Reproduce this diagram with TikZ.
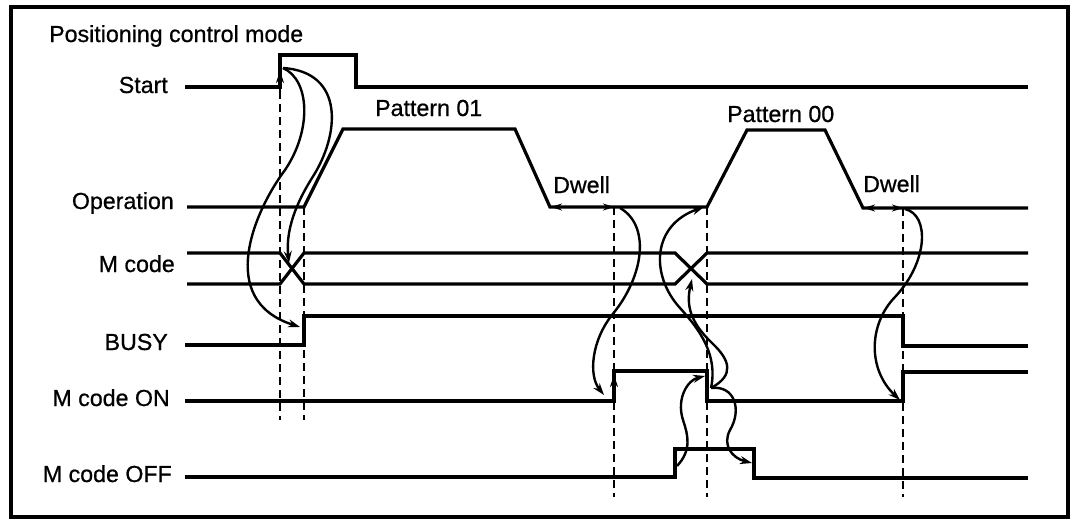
\documentclass[tikz,border=0pt]{standalone}
\usepackage{fontspec}
\setmainfont{Liberation Sans}
\newfontfamily\lblfont{Liberation Sans}[FakeBold=0.7]
\usetikzlibrary{arrows.meta}
\begin{document}
\begin{tikzpicture}[x=1pt,y=-1pt,
  sig/.style={line width=3.2pt, line join=miter},
  dsh/.style={line width=2.4pt, dash pattern=on 8pt off 5pt},
  crv/.style={line width=2.4pt, -{Stealth[length=12pt,width=8pt]}},
  tip/.style={line width=2.4pt, -{Stealth[length=12pt,width=8pt]}},
  dwl/.style={line width=2.4pt, {Stealth[length=11pt,width=7pt]}-{Stealth[length=11pt,width=7pt]}},
  txt/.style={inner sep=0pt, font=\lblfont\fontsize{23.2}{28}\selectfont},
  lbl/.style={txt, anchor=base east}]
\useasboundingbox (0,0) rectangle (1072,520);
\draw[line width=3.4pt] (11,7) rectangle (1068,517);

% texts
\node[txt, anchor=base west] (title) at (49,42) {Positioning control mode};
\node[lbl] (lStart) at (168,93) {Start};
\node[lbl] (lOp) at (174,209) {Operation};
\node[lbl] (lM) at (175,272) {M code};
\node[lbl] (lBusy) at (168,350) {BUSY};
\node[lbl] (lOn) at (170,406) {M code ON};
\node[lbl] (lOff) at (172,482) {M code OFF};
\node[txt, anchor=base west] (p01) at (375,116) {Pattern 01};
\node[txt, anchor=base west] (p00) at (727,122) {Pattern 00};
\node[txt, anchor=base west] (dw1) at (553,193) {Dwell};
\node[txt, anchor=base west] (dw2) at (863,192) {Dwell};

% key coordinates
\coordinate (stTop) at (283,68);
\coordinate (dw1a) at (551,207);
\coordinate (dw1b) at (614,207);
\coordinate (dw1c) at (620,208);
\coordinate (opRise2) at (704,207);
\coordinate (dw2a) at (864,208);
\coordinate (dw2b) at (903,208);
\coordinate (dw2c) at (905,209);
\coordinate (mX1) at (289,263);
\coordinate (mX2) at (692,279);
\coordinate (busyRise) at (300,327);
\coordinate (onRise1) at (604,395);
\coordinate (onRise2) at (900,400);
\coordinate (onFall) at (711,388);
\coordinate (onFallTip) at (705,376);
\coordinate (offRise) at (677,466);
\coordinate (offFall) at (752,463);

% signals
\draw[sig] (185,87) -- (280,87) -- (280,55) -- (356,55) -- (356,87) -- (1028,87);
\draw[sig] (187,207) -- (304,207) -- (343,129) -- (515,129) -- (550,207) -- (707,207)
  -- (747,130) -- (825,130) -- (863,208) -- (1028,208);
\draw[sig] (187,253) -- (280,253) -- (304,284) -- (675,284) -- (707,253) -- (1028,253);
\draw[sig] (187,284) -- (280,284) -- (304,253) -- (675,253) -- (707,284) -- (1028,284);
\draw[sig] (185,345) -- (304,345) -- (304,316) -- (903,316) -- (903,346) -- (1028,346);
\draw[sig] (185,401) -- (614,401) -- (614,371) -- (707,371) -- (707,401) -- (903,401)
  -- (903,372) -- (1028,372);
\draw[sig] (185,477) -- (675,477) -- (675,449) -- (754,449) -- (754,478) -- (1028,478);

% dashed guides
\draw[dsh] (280,78) -- (280,420);
\draw[dsh] (304,207) -- (304,420);
\draw[dsh] (614,207) -- (614,497);
\draw[dsh] (707,207) -- (707,497);
\draw[dsh] (903,208) -- (903,497);

% edge arrowheads
\draw[tip] (280,95) -- (280,71);
\draw[tip] (614,395) -- (614,375);

% dwell arrows
\draw[dwl] (dw1a) -- (dw1b);
\draw[dwl] (dw2a) -- (dw2b);

% cause-effect curves
\draw[crv] (stTop) .. controls (345,72) and (340,135) .. (312,178)
  .. controls (292,210) and (286,235) .. (mX1);
\draw[crv] (stTop) .. controls (310,80) and (312,130) .. (285,170)
  .. controls (255,210) and (215,300) .. (busyRise);
\draw[crv] (dw1c) .. controls (650,225) and (645,275) .. (612,315)
  .. controls (592,340) and (588,375) .. (onRise1);
\draw[crv] (dw2c) .. controls (930,215) and (928,262) .. (895,297)
  .. controls (868,325) and (868,370) .. (onRise2);
\draw[crv] (offRise) .. controls (692,450) and (688,435) .. (683,420)
  .. controls (676,398) and (688,380) .. (onFallTip);
\draw[crv] (onFall) .. controls (735,385) and (742,410) .. (730,430)
  .. controls (722,445) and (732,458) .. (offFall);
\draw[crv] (onFall) .. controls (718,355) and (700,330) .. (680,308)
  .. controls (650,275) and (652,225) .. (opRise2);
\draw[crv] (onFall) .. controls (735,375) and (730,360) .. (712,343)
  .. controls (690,322) and (686,305) .. (mX2);
\end{tikzpicture}
\end{document}
